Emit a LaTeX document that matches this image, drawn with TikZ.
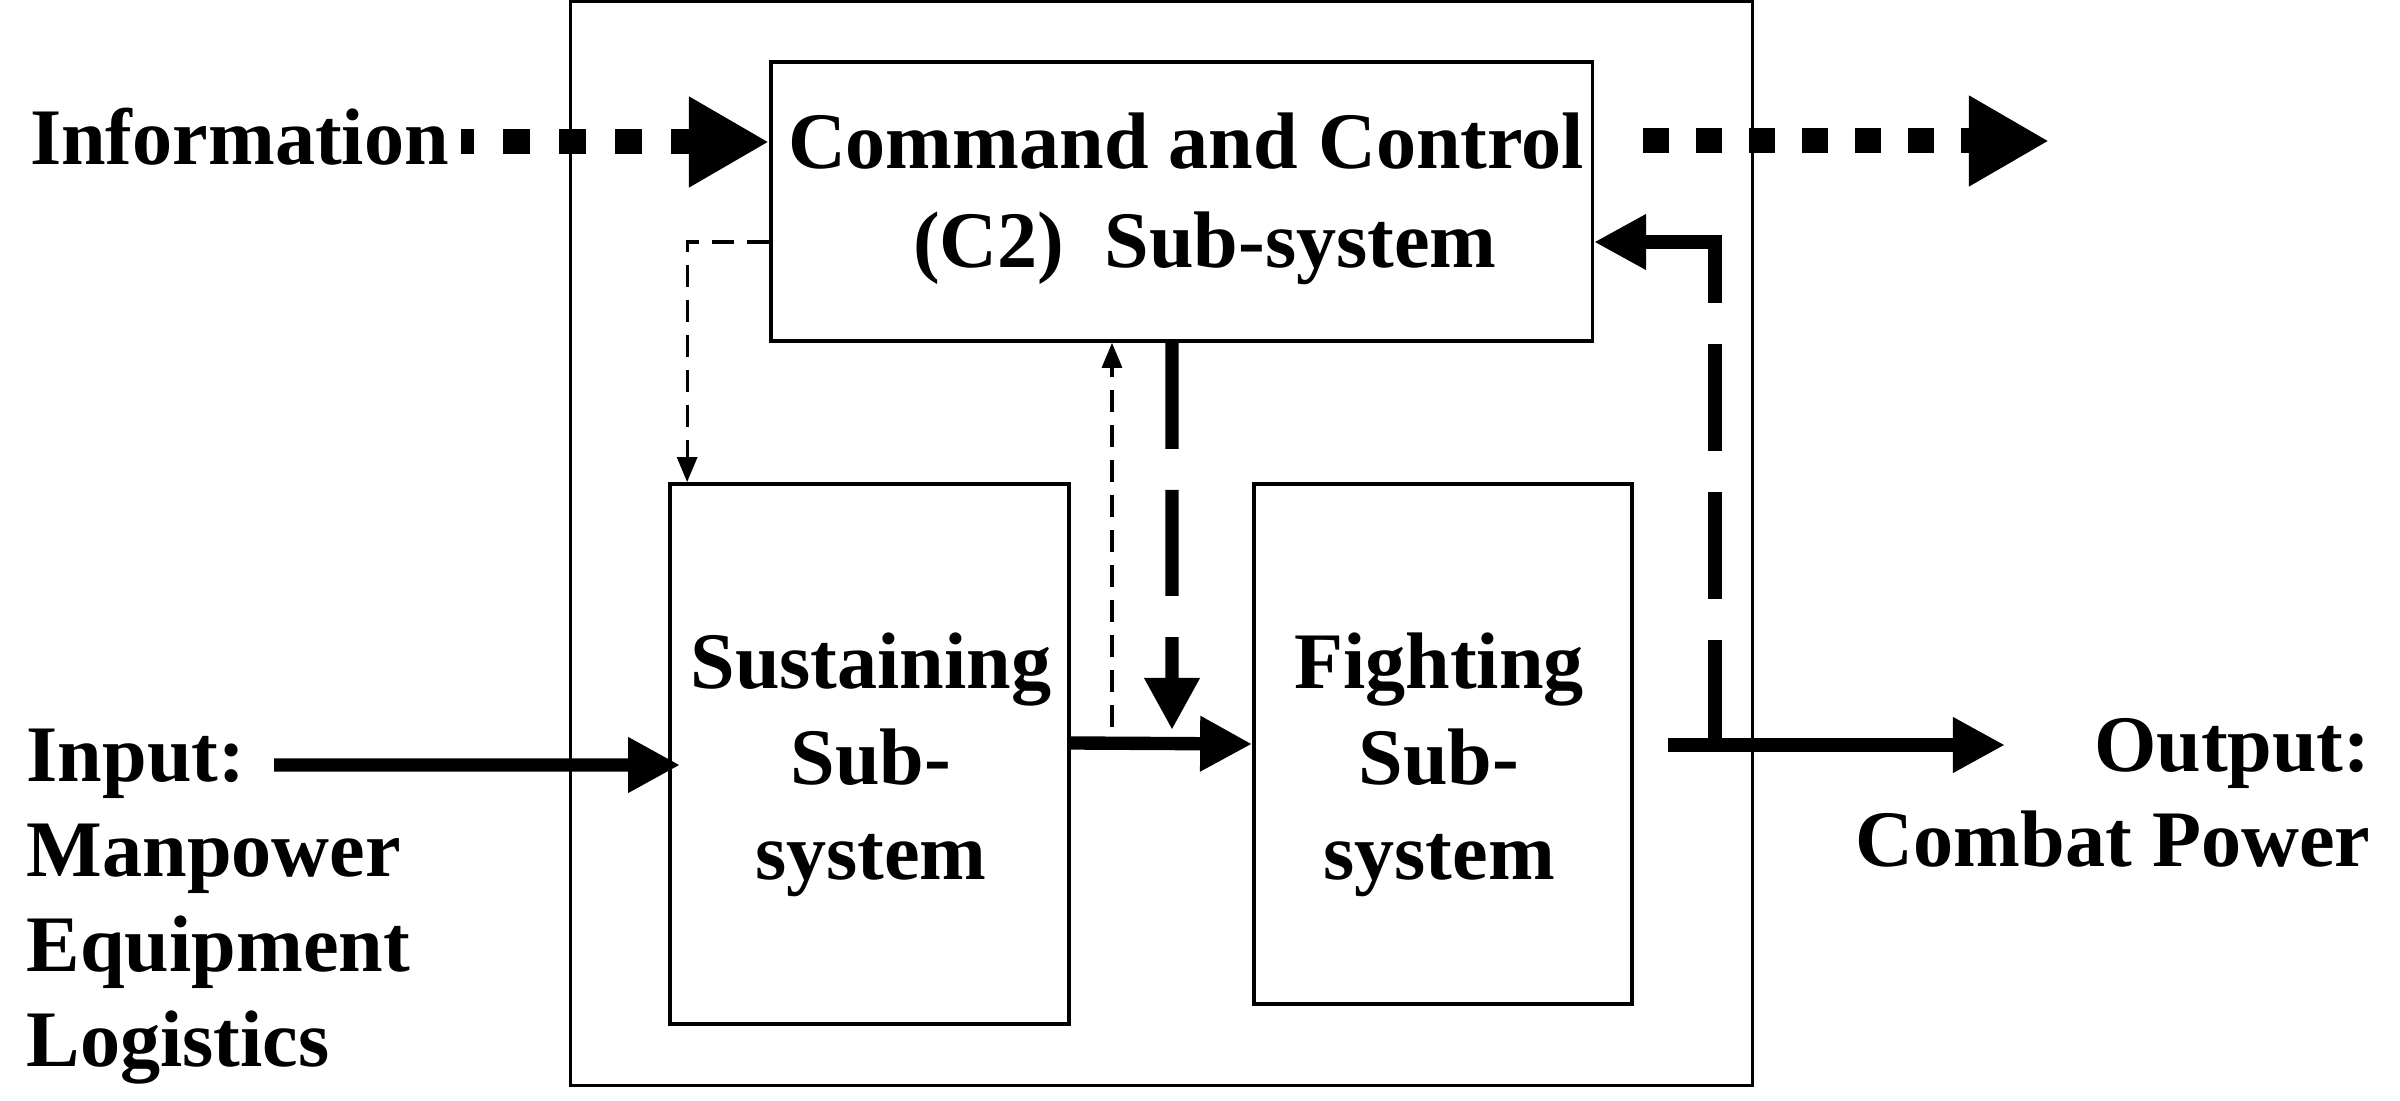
\documentclass[tikz,border=0pt]{standalone}
\usepackage{fontspec}
\setmainfont{Liberation Serif}
\usetikzlibrary{arrows.meta,calc}
\begin{document}
\begin{tikzpicture}[x=0.01cm,y=-0.01cm,
  box/.style={draw,line width=1pt,inner sep=0pt},
  lbl/.style={inner sep=0pt,font=\fontsize{22.8pt}{#1}\selectfont\bfseries},
  lbl/.default=27.2pt,
  thickarrow/.style={line width=3.8pt,-{Triangle[length=0.52cm,width=0.52cm]}},
  dotarrow/.style={line width=0.25cm,-{Triangle[length=0.8cm,width=0.85cm]}},
  thinarrow/.style={line width=0.9pt,dash pattern=on 0.22cm off 0.13cm,-{Triangle[length=0.25cm,width=0.2cm]}},
]
\useasboundingbox (0,0) rectangle (2400,1101);
% boxes
\node[draw,line width=0.9pt,inner sep=0pt,minimum width=11.81cm,minimum height=10.83cm] (outer) at (1161.5,543.5) {};
\node[box,minimum width=8.21cm,minimum height=2.79cm] (c2) at (1181.5,201.5) {};
\node[box,minimum width=3.99cm,minimum height=5.40cm] (sus) at (869.5,754) {};
\node[box,minimum width=3.78cm,minimum height=5.20cm] (fight) at (1443,744) {};
% texts
\node[lbl=28.2pt,align=center] (c2txt) at (1186,198.5) {Command and Control\\\hspace*{0.38cm}(C2)\ \ Sub-system};
\node[lbl,align=center] (sustxt) at (871,765) {Sustaining\\Sub-\\system};
\node[lbl,align=center] (fighttxt) at (1439,765) {Fighting\\Sub-\\system};
\node[lbl,anchor=base west] (info) at (29.5,165) {Information};
\node[lbl=27pt,align=left,anchor=west] (input) at (26,906.5) {Input:\\Manpower\\Equipment\\Logistics};
\node[lbl=27pt,align=right,anchor=east] (output) at (2371,792.5) {Output:\\Combat Power};
% coordinates
\coordinate (infostart) at (461,142);
\coordinate (infoout) at (1643,141);
\coordinate (infoend) at (2049,141);
\coordinate (inputstart) at (274,765);
\coordinate (cmdend) at (1172,730);
\coordinate (repstart) at (1112,727);
\coordinate (outstart) at (1668,745);
\coordinate (outend) at (2005,745);
\coordinate (fbstart) at (1715,745);
% connectors
\draw[dotarrow,dash pattern=on 0.27cm off 0.29cm,dash phase=0.14cm] (infostart) -- (infostart -| c2.west);
\draw[dotarrow,dash pattern=on 0.26cm off 0.27cm] (infoout) -- (infoend);
\draw[thickarrow] (inputstart) -- ([xshift=0.12cm,yshift=-0.11cm]sus.west);
\draw[thickarrow] ([yshift=0.11cm]sus.east) -- (fight.west);
\draw[thickarrow,dash pattern=on 1.06cm off 0.41cm] ([xshift=-0.095cm]c2.south) -- (cmdend);
\draw[thinarrow] (repstart) -- (repstart |- c2.south);
\draw[thinarrow] ([yshift=-0.405cm]c2.west) -| ([xshift=0.19cm]sus.north west);
\draw[thickarrow] (outstart) -- (outend);
\draw[thickarrow,dash pattern=on 1.05cm off 0.41cm on 1.07cm off 0.41cm on 1.07cm off 0.41cm on 4cm off 0.1cm] (fbstart) |- ([yshift=-0.405cm]c2.east);
\end{tikzpicture}
\end{document}
